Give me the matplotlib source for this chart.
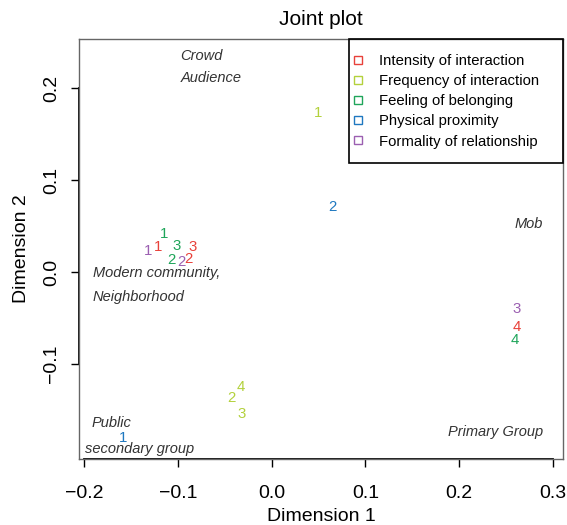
import matplotlib
matplotlib.use('Agg')
import matplotlib.pyplot as plt
from matplotlib.lines import Line2D
from matplotlib.patches import Rectangle

plt.rcParams['font.family'] = ['Liberation Sans', 'DejaVu Sans']

# coordinates per variable, labels 1..n are the categories
variables = ['Intensity of interaction', 'Frequency of interaction',
             'Feeling of belonging', 'Physical proximity',
             'Formality of relationship']
colors = ['#E8413A', '#B3D13C', '#1FA55A', '#1F78C0', '#9B5FB1']

intensity_x = [-0.1215, -0.0882, -0.0845, 0.2615]
intensity_y = [0.0275, 0.0138, 0.0272, -0.0601]
frequency_x = [0.0494, -0.0430, -0.0323, -0.0328]
frequency_y = [0.1732, -0.1373, -0.1540, -0.1247]
belonging_x = [-0.1151, -0.1066, -0.1013, 0.2591]
belonging_y = [0.0413, 0.0130, 0.0283, -0.0739]
proximity_x = [-0.1585, 0.0647]
proximity_y = [-0.1808, 0.0703]
formality_x = [-0.1319, -0.0956, 0.2609]
formality_y = [0.0232, 0.0112, -0.0402]

groups = [
    ('Crowd', -0.097, 0.2348),
    ('Audience', -0.097, 0.2109),
    ('Mob', 0.259, 0.0522),
    ('Modern community,', -0.1908, -0.0011),
    ('Neighborhood', -0.1908, -0.0272),
    ('Public', -0.1919, -0.1641),
    ('secondary group', -0.1994, -0.1924),
    ('Primary Group', 0.1876, -0.1739),
]

xticks = [-0.2, -0.1, 0.0, 0.1, 0.2, 0.3]
yticks = [-0.1, 0.0, 0.1, 0.2]


def fmt(v):
    return ('%.1f' % v).replace('-', '\u2212')


def main():
    fig = plt.figure(figsize=(5.67, 5.25), dpi=100)
    ax = fig.add_axes([0.1393, 0.1257, 0.8537, 0.8])

    series = [(intensity_x, intensity_y), (frequency_x, frequency_y),
              (belonging_x, belonging_y), (proximity_x, proximity_y),
              (formality_x, formality_y)]
    for (xs, ys), col in zip(series, colors):
        for i, (x, y) in enumerate(zip(xs, ys)):
            ax.text(x, y, str(i + 1), color=col, fontsize=10.8,
                    ha='center', va='center')

    for txt, x, y in groups:
        ax.text(x, y, txt, fontsize=10.5, style='italic', color='#333333',
                ha='left', va='center')

    ax.set_xlim(-0.2053, 0.3107)
    ax.set_ylim(-0.2033, 0.2533)

    for s in ax.spines.values():
        s.set_color('#666666')
        s.set_linewidth(1)

    # R style axis lines over the tick range
    ax.plot([xticks[0], xticks[-1]], [0, 0], color='black', lw=1.3,
            transform=ax.get_xaxis_transform(), clip_on=False)
    ax.plot([0, 0], [yticks[0], yticks[-1]], color='black', lw=1.3,
            transform=ax.get_yaxis_transform(), clip_on=False)

    ax.set_xticks(xticks)
    ax.set_yticks(yticks)
    ax.set_xticklabels([fmt(v) for v in xticks])
    ax.set_yticklabels([fmt(v) for v in yticks], rotation=90, va='center')
    ax.tick_params(labelsize=14, length=6, width=1, color='black')
    ax.tick_params(axis='x', pad=12.5)
    ax.tick_params(axis='y', pad=7.5)

    ax.set_xlabel('Dimension 1', fontsize=14, labelpad=4.5)
    ax.set_ylabel('Dimension 2', fontsize=14, labelpad=9.5)
    ax.set_title('Joint plot', fontsize=15, pad=10)

    # legend box (R style, top right corner of plot region)
    ax.add_patch(Rectangle((0.558, 0.705), 0.442, 0.295,
                           transform=ax.transAxes, fill=False,
                           edgecolor='black', lw=1.2, zorder=5,
                           clip_on=False))
    handles = [Line2D([], [], ls='none', marker='s', markersize=6,
                      markerfacecolor='none', markeredgecolor=c,
                      markeredgewidth=1) for c in colors]
    ax.legend(handles, variables, loc='upper left',
              bbox_to_anchor=(0.564, 0.965), fontsize=10.7,
              frameon=False, borderaxespad=0, borderpad=0,
              handlelength=0.85, handletextpad=0.95, labelspacing=0.42)

    plt.savefig('out.png', dpi=100)
    plt.close()


if __name__ == "__main__":
    main()
